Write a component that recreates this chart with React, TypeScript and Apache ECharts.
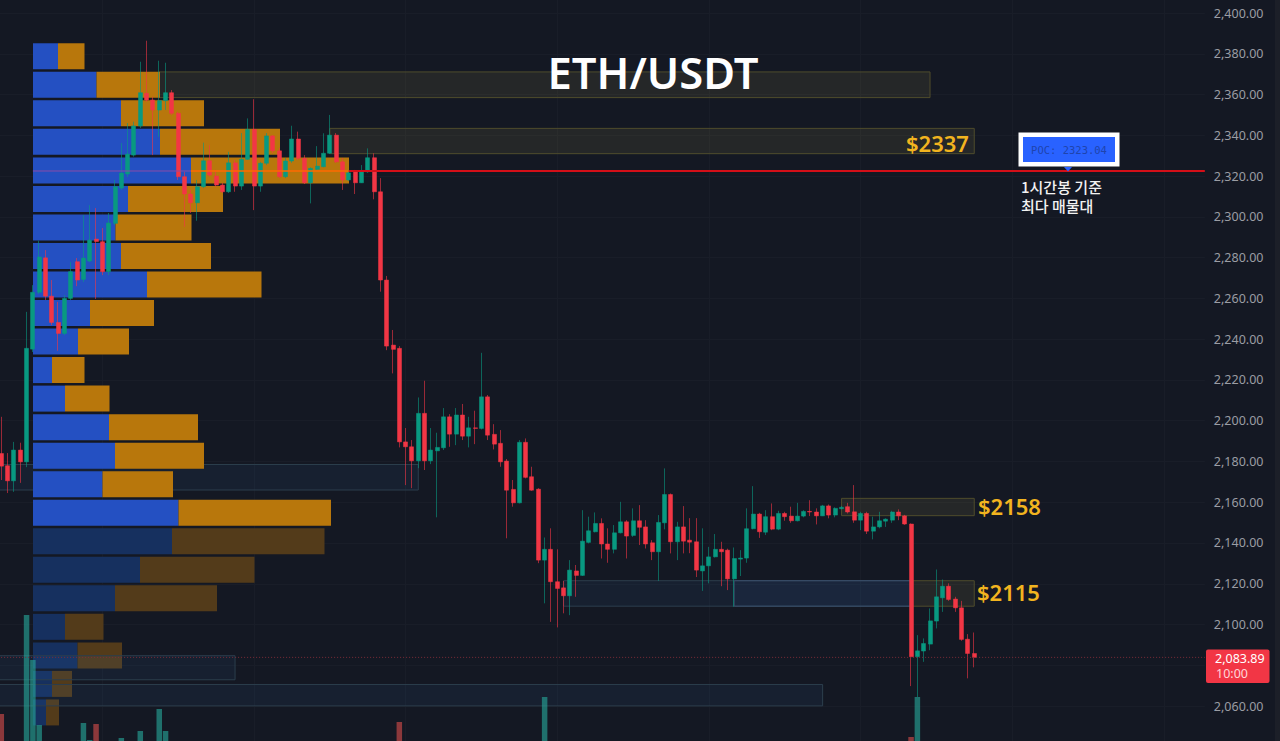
import { useEffect, useRef } from 'react';
import * as echarts from 'echarts';

const BG = '#141823';
const UP = '#089981';
const DOWN = '#f23645';
const GOLD = '#f2b41f';
const LAST_PRICE = 2083.89;

// one slot per 1h bar, the empty ones on the right are the chart's free space
const slots = Array.from({ length: 191 }, (_, i) => String(i));

// open, close, low, high
const candles = [
  [2183.9, 2177.7, 2170.9, 2201.9], [2177.9, 2170.5, 2164.5, 2184.1], [2170.5, 2185.6, 2165.1, 2189.6], [2185.6, 2179.8, 2169.5, 2189.2],
  [2179.8, 2235.5, 2177.2, 2253.4], [2235.1, 2263, 2233.7, 2266.5], [2263, 2280.3, 2262.1, 2288.3], [2279.9, 2261.1, 2259.2, 2283.7],
  [2261.1, 2248.2, 2246.9, 2269], [2248.2, 2242.8, 2234.3, 2258.3], [2242.8, 2260, 2242, 2261.6], [2260, 2273.1, 2259.2, 2277.8],
  [2278, 2269, 2266, 2279.8], [2269.3, 2279.8, 2268, 2300.9], [2278.3, 2288.6, 2277.8, 2305.8], [2289.1, 2287.9, 2259.7, 2304.3],
  [2287.8, 2273.1, 2271.4, 2294.5], [2273.1, 2297, 2271.4, 2301.9], [2296.8, 2314.8, 2296, 2318.1], [2314.1, 2321.5, 2313.2, 2336.2],
  [2321, 2330.8, 2319.5, 2346], [2330.3, 2344.6, 2329.5, 2346.7], [2344.6, 2360.9, 2343.6, 2376.1], [2360.6, 2357.3, 2356.5, 2386.4],
  [2357.3, 2352.4, 2330.3, 2358.9], [2352.4, 2357, 2339.3, 2376.6], [2357, 2360.9, 2352.4, 2375.6], [2360.9, 2350.8, 2350, 2362.2],
  [2350.8, 2319.7, 2318.1, 2351.6], [2319.7, 2311.2, 2295.1, 2322.1], [2311.2, 2306.9, 2301.9, 2313.2], [2306.9, 2314.8, 2298.1, 2318.1],
  [2314.8, 2327.5, 2314.1, 2336.4], [2327.5, 2320.5, 2319.7, 2335.2], [2320, 2315.6, 2314.8, 2323], [2315.6, 2312.3, 2311.7, 2316.6],
  [2312.3, 2326.5, 2311.7, 2331.9], [2326.5, 2315.1, 2312.3, 2327.9], [2315.1, 2328.2, 2313.2, 2341.1], [2328.2, 2342.9, 2327.9, 2348.3],
  [2342.9, 2315.1, 2303.3, 2357.7], [2315.1, 2326.3, 2312.3, 2327], [2326.3, 2339.7, 2325.4, 2341.1], [2339.7, 2332.4, 2331.3, 2340.1],
  [2332.4, 2319.7, 2319, 2333.8], [2319.7, 2327.4, 2319, 2328.9], [2327.4, 2338.2, 2326.5, 2344.7], [2338.2, 2328.7, 2327.9, 2341.8],
  [2328.7, 2316.7, 2316.1, 2330.3], [2316.7, 2323.8, 2306.6, 2324.3], [2323.3, 2324.9, 2323, 2334.7], [2324.6, 2331.2, 2324.3, 2341],
  [2331.2, 2340.1, 2330.8, 2350], [2340.1, 2327, 2326.4, 2341.1], [2327, 2318.1, 2313.2, 2328.9], [2318.1, 2321.6, 2317.7, 2322.6],
  [2322.5, 2316.7, 2311.2, 2323], [2316.7, 2322.1, 2316.6, 2325.4], [2322.1, 2329, 2321.6, 2333.6], [2329, 2312.3, 2308.6, 2331.2],
  [2312.3, 2269, 2263.3, 2319], [2269, 2236.6, 2234.6, 2271], [2237.1, 2235, 2223.2, 2244.5], [2235.5, 2189.6, 2186.9, 2236.6],
  [2189.6, 2187.2, 2168.4, 2196.4], [2187.2, 2180.3, 2166.9, 2190.5], [2180.3, 2203.6, 2176.7, 2211.4], [2203.6, 2180.3, 2175.8, 2219.6],
  [2180.3, 2185.6, 2178.7, 2196.4], [2185.2, 2186.9, 2152.6, 2194.1], [2186.7, 2201.9, 2185.6, 2206.2], [2201.9, 2193.4, 2187.2, 2203.2],
  [2193.4, 2202.8, 2188, 2206.2], [2202.8, 2192.4, 2190.5, 2208.2], [2192.4, 2196.5, 2186.9, 2201.9], [2196.5, 2196.2, 2188.5, 2204.9],
  [2196.2, 2211.7, 2195.7, 2233.3], [2211.7, 2192.9, 2190.5, 2212.6], [2193.3, 2188.5, 2185.9, 2198.3], [2188.9, 2179.8, 2177.4, 2195.4],
  [2180.2, 2165.9, 2142.3, 2181.2], [2166.3, 2159.7, 2157.8, 2170.9], [2159.7, 2189.4, 2159.4, 2190.5], [2189.4, 2172.2, 2171.7, 2191.3],
  [2172.5, 2165.9, 2165.6, 2177.4], [2166.4, 2131.6, 2130.1, 2166.9], [2131.6, 2136.9, 2110.4, 2142.7], [2136.9, 2121, 2101.3, 2147.2],
  [2121, 2117.7, 2098.6, 2136.9], [2118, 2114.1, 2105.5, 2121.4], [2114.1, 2126.7, 2104.6, 2131.6], [2126.3, 2124.1, 2113.6, 2129.2],
  [2124.1, 2140.9, 2123.8, 2156.1], [2140.3, 2146, 2139.8, 2152.9], [2145.5, 2149.6, 2145.2, 2155], [2149.6, 2139.5, 2132.4, 2152.1],
  [2139.5, 2136.9, 2130.3, 2147.2], [2136.9, 2145, 2134.9, 2148.8], [2145, 2150.4, 2144.7, 2160.2], [2150.4, 2143.4, 2132.4, 2151.2],
  [2143.7, 2150.9, 2143, 2157], [2150.9, 2147.7, 2139, 2158.6], [2147.9, 2139.5, 2137.3, 2151.2], [2140.1, 2135.7, 2131.6, 2141.4],
  [2135.7, 2150.1, 2121.4, 2153.7], [2149.9, 2163.8, 2146.7, 2176.6], [2163.8, 2140.6, 2134.9, 2164.3], [2140.6, 2147.9, 2131.6, 2150.4],
  [2147.9, 2140.9, 2134.9, 2158.1], [2141.4, 2140.4, 2135, 2152.2], [2140.6, 2126.7, 2123.3, 2152.2], [2126.3, 2128.8, 2116.5, 2147.2],
  [2128.8, 2133.2, 2120.2, 2138.1], [2133.2, 2136.9, 2132.9, 2144.4], [2136.9, 2135.7, 2118.8, 2140.6], [2136.5, 2122.4, 2116.9, 2137.2],
  [2122.4, 2132.4, 2108.7, 2137.8], [2132.1, 2132.6, 2123.8, 2136.5], [2132.6, 2147, 2130.3, 2157], [2147, 2154.2, 2146.7, 2167.9],
  [2154.2, 2145.5, 2142.5, 2154.8], [2145.3, 2152.9, 2143.9, 2156.1], [2152.9, 2146.8, 2146.3, 2159.4], [2146.8, 2154.5, 2146.3, 2155.8],
  [2154.5, 2152.9, 2150.9, 2155.3], [2153.2, 2150.9, 2149.9, 2157.8], [2150.9, 2153.2, 2150.6, 2159.7], [2153.2, 2155.5, 2152.6, 2156.1],
  [2155.5, 2155.2, 2153.2, 2161], [2155.2, 2153.3, 2149.1, 2157], [2153.3, 2158.2, 2153.2, 2158.7], [2158.2, 2153.7, 2152.1, 2158.9],
  [2153.7, 2157, 2152.6, 2157.5], [2156.8, 2157.5, 2156.5, 2158.1], [2157.8, 2155.2, 2154.5, 2159.7], [2155.3, 2151.2, 2149.9, 2168.4],
  [2151.2, 2154.5, 2146.3, 2155.3], [2154.5, 2145.8, 2144.4, 2155.3], [2145.8, 2147.9, 2141.8, 2152.9], [2147.9, 2150.9, 2147.2, 2155.3],
  [2150.7, 2151.7, 2147.9, 2152.1], [2151.2, 2155.2, 2149.9, 2155.8], [2155.2, 2153.3, 2151.2, 2156.5], [2153.3, 2149.3, 2148.9, 2153.8],
  [2149.3, 2084.2, 2069.8, 2149.6], [2084.2, 2087.1, 2064.4, 2094.8], [2087, 2090.7, 2081.7, 2093.2], [2090.4, 2101.8, 2087.4, 2107.9],
  [2101.7, 2113.6, 2098.1, 2127], [2113.1, 2118.8, 2106.2, 2122.1], [2118.8, 2112.3, 2111.6, 2120.2], [2112.5, 2108.2, 2106.2, 2113.6],
  [2108.2, 2092.7, 2092, 2111.6], [2092.8, 2085.8, 2073.6, 2095.3], [2085.8, LAST_PRICE, 2079, 2096.1],
];

// bar slot, volume (only the bars that reach into the view)
const volumes = [
  [0, 46], [4, 145], [5, 100], [6, 35], [13, 37], [14, 20], [15, 36], [19, 22], [22, 29], [25, 51], [26, 29], [63, 38], [86, 63], [144, 23], [145, 63],
];

// volume profile, top row first
const profileBuy = [25, 63.5, 88, 127, 158, 95, 82.5, 88, 114, 57, 45, 19, 32, 76, 82, 69.5, 145.5, 139, 107, 82, 32, 44.5, 19, 13];
const profileSell = [26.5, 63.5, 83, 120, 158, 95, 76, 90, 114.5, 64, 51, 32.5, 44.5, 89, 89, 70.5, 152.5, 152.5, 114.5, 102, 38.5, 44.5, 20, 13];
const FIRST_DIM_ROW = 17;

// start slot, end slot, top price, bottom price, style
const zonesBehind = [
  [25, 147, 2371.1, 2358.5, 'gold'],
  [52, 154, 2343.4, 2331, 'gold'],
  [0, 66, 2178.5, 2166, 'slate'],
  [89, 144, 2121.5, 2109, 'slate'],
  [116, 144, 2121.5, 2109, 'steel'],
  [144, 154, 2121.5, 2109, 'gold'],
  [133, 154, 2161.9, 2153.4, 'gold'],
];
const zonesFront = [
  [0, 37, 2084.7, 2072.9, 'slate'],
  [0, 130, 2070.6, 2060.1, 'slate'],
];
const zoneStyles: Record<string, { fill: string; stroke: string }> = {
  gold: { fill: 'rgba(200,180,90,0.1)', stroke: '#4f4c2c' },
  slate: { fill: 'rgba(60,120,190,0.09)', stroke: '#2c3e4d' },
  steel: { fill: 'rgba(70,120,200,0.08)', stroke: '#3a506c' },
};

// start slot, end slot, price, style
const levelLines = [
  [5, 30, 2322.5, 'pocBlue'],
  [30, 55, 2322.5, 'pocOrange'],
  [55, 190, 2322.5, 'poc'],
  [0, 190, LAST_PRICE, 'last'],
];
const lineStyles: Record<string, any> = {
  pocBlue: { stroke: '#8a4aa8', lineWidth: 1 },
  pocOrange: { stroke: '#ff6a00', lineWidth: 1.5 },
  poc: { stroke: '#d40f18', lineWidth: 2.2 },
  last: { stroke: '#7d2c38', lineWidth: 1, lineDash: [1, 2] },
};

function renderZone(params: any, api: any) {
  const cs = params.coordSys;
  const a = api.coord([api.value(0), api.value(2)]);
  const b = api.coord([api.value(1), api.value(3)]);
  const x0 = api.value(0) > 0 ? a[0] : cs.x;
  return {
    type: 'rect',
    shape: { x: x0, y: a[1], width: b[0] - x0, height: b[1] - a[1] },
    style: { ...zoneStyles[api.value(4)], lineWidth: 1 },
  };
}

function renderLevel(params: any, api: any) {
  const cs = params.coordSys;
  const a = api.coord([api.value(0), api.value(2)]);
  const b = api.coord([api.value(1), api.value(2)]);
  const x1 = api.value(1) === slots.length - 1 ? cs.x + cs.width : b[0];
  const x0 = api.value(0) > 0 ? a[0] : cs.x;
  return {
    type: 'line',
    shape: { x1: x0, y1: a[1], x2: x1, y2: a[1] },
    style: lineStyles[api.value(3)],
  };
}

function zoneSeries(data: any[], z: number) {
  return {
    type: 'custom', z, renderItem: renderZone, silent: true,
    encode: { x: [0, 1], y: [2, 3] },
    data,
  };
}

const PLOT_LEFT = -1.86;
const PLOT_WIDTH = 1206.7;
const GRID_LINE = '#191d28';

function buildOption() {
  const slotAxis = (gridIndex: number, extra = {}) => ({
    type: 'category', gridIndex, data: slots,
    axisLine: { show: false }, axisTick: { show: false }, axisLabel: { show: false },
    splitLine: { show: false },
    ...extra,
  });
  const profileColor = (row: number, bright: string, dim: string) => (row < FIRST_DIM_ROW ? bright : dim);
  const candleColors = { color: UP, color0: DOWN, borderColor: UP, borderColor0: DOWN };
  return {
    animation: false,
    backgroundColor: BG,
    grid: [
      { left: PLOT_LEFT, width: PLOT_WIDTH, top: -27.76, height: 774.6, outerBoundsMode: 'none' },
      { left: 33, width: 1000, top: 42, height: 684.7, outerBoundsMode: 'none' },
      { left: PLOT_LEFT, width: PLOT_WIDTH, top: 600, height: 160, outerBoundsMode: 'none' },
    ],
    xAxis: [
      slotAxis(0, {
        splitLine: {
          show: true, alignWithLabel: true,
          interval: (i: number) => (i - 16) % 24 === 0,
          lineStyle: { color: GRID_LINE, width: 1 },
        },
      }),
      { type: 'value', gridIndex: 1, min: 0, max: 1000, show: false },
      slotAxis(2),
    ],
    yAxis: [
      {
        type: 'value', gridIndex: 0, position: 'right', min: 2040, max: 2420, interval: 20,
        axisLine: { show: false }, axisTick: { show: false },
        splitLine: { lineStyle: { color: GRID_LINE, width: 1 } },
        axisLabel: {
          margin: 9, color: '#9b9da4', fontFamily: 'Noto Sans', fontSize: 12.5,
          // 2,080 sits under the last-price tag
          formatter: (v: number) => (v === 2040 || v === 2420 || v === 2080
            ? '' : v.toLocaleString('en-US', { minimumFractionDigits: 2 })),
        },
      },
      { type: 'category', gridIndex: 1, inverse: true, show: false, data: profileBuy.map((_, i) => String(i)) },
      { type: 'value', gridIndex: 2, min: 0, max: 160, show: false },
    ],
    series: [
      zoneSeries(zonesBehind, 1),
      {
        type: 'bar', xAxisIndex: 1, yAxisIndex: 1, stack: 'profile', barWidth: 26, z: 2, silent: true,
        data: profileBuy.map((v, i) => ({ value: v, itemStyle: { color: profileColor(i, '#2450c2', '#16305f') } })),
      },
      {
        type: 'bar', xAxisIndex: 1, yAxisIndex: 1, stack: 'profile', barWidth: 26, z: 2, silent: true,
        data: profileSell.map((v, i) => ({ value: v, itemStyle: { color: profileColor(i, '#b8770c', '#533b1a') } })),
      },
      zoneSeries(zonesFront, 3),
      {
        type: 'bar', xAxisIndex: 2, yAxisIndex: 2, barWidth: 5.5, z: 4, silent: true,
        data: volumes.map(([slot, v]) => ({
          value: [slot, v],
          itemStyle: {
            color: candles[slot][1] >= candles[slot][0] ? 'rgba(38,166,154,0.62)' : 'rgba(239,83,80,0.55)',
          },
        })),
      },
      // wicks are fainter than the bodies, so they get a series of their own
      {
        type: 'candlestick', z: 5, barWidth: 1, silent: true, data: candles,
        itemStyle: { ...candleColors, borderWidth: 1, opacity: 0.6 },
      },
      {
        type: 'candlestick', z: 5, barWidth: 4.5, silent: true,
        data: candles.map(([o, c]) => [o, c, Math.min(o, c), Math.max(o, c)]),
        itemStyle: { ...candleColors, borderWidth: 0.5 },
      },
      {
        type: 'custom', z: 6, renderItem: renderLevel, silent: true,
        encode: { x: [0, 1], y: 2 },
        data: levelLines,
      },
    ],
    graphic: [
      { type: 'rect', z: 20, shape: { x: 1275, y: 0, width: 5, height: 741 }, style: { fill: '#1c1f28' } },
      {
        type: 'text', z: 20, x: 653, y: 72,
        style: { text: 'ETH/USDT', fill: '#ffffff', font: '600 43.5px "Noto Sans"', align: 'center', verticalAlign: 'middle' },
      },
      {
        type: 'text', z: 20, x: 906, y: 143,
        style: { text: '$2337', fill: GOLD, font: '600 22px "Noto Sans"', verticalAlign: 'middle' },
      },
      {
        type: 'text', z: 20, x: 978, y: 506,
        style: { text: '$2158', fill: GOLD, font: '600 22px "Noto Sans"', verticalAlign: 'middle' },
      },
      {
        type: 'text', z: 20, x: 977, y: 592,
        style: { text: '$2115', fill: GOLD, font: '600 22px "Noto Sans"', verticalAlign: 'middle' },
      },
      { type: 'rect', z: 20, shape: { x: 1018.5, y: 132.5, width: 101, height: 34 }, style: { fill: '#ffffff' } },
      { type: 'rect', z: 21, shape: { x: 1023, y: 137, width: 92, height: 25 }, style: { fill: '#2962ff' } },
      { type: 'polygon', z: 21, shape: { points: [[1064, 167], [1072, 167], [1068, 171.5]] }, style: { fill: '#2962ff' } },
      {
        type: 'text', z: 22, x: 1069, y: 149.5,
        style: { text: 'POC: 2323.04', fill: '#1f44ad', font: '10.5px "DejaVu Sans Mono"', align: 'center', verticalAlign: 'middle' },
      },
      {
        type: 'text', z: 20, x: 1021, y: 186.5,
        style: { text: '1시간봉 기준', fill: '#f2f2f2', font: '500 15px "Noto Sans CJK KR"', verticalAlign: 'middle' },
      },
      {
        type: 'text', z: 20, x: 1021, y: 205.5,
        style: { text: '최다 매물대', fill: '#f2f2f2', font: '500 15px "Noto Sans CJK KR"', verticalAlign: 'middle' },
      },
      { type: 'rect', z: 20, shape: { x: 1206, y: 649.5, width: 63.5, height: 33.5, r: 2 }, style: { fill: DOWN } },
      {
        type: 'text', z: 21, x: 1215, y: 658,
        style: { text: '2,083.89', fill: '#ffffff', font: '12.5px "Noto Sans"', verticalAlign: 'middle' },
      },
      {
        type: 'text', z: 21, x: 1216, y: 673.5,
        style: { text: '10:00', fill: '#ffd5d9', font: '12.5px "Noto Sans"', verticalAlign: 'middle' },
      },
    ],
  };
}

export default function App() {
  const ref = useRef<HTMLDivElement>(null);

  useEffect(() => {
    if (!ref.current) return;
    const chart = echarts.init(ref.current, undefined, { renderer: 'svg' });
    chart.setOption(buildOption());
    return () => chart.dispose();
  }, []);

  return <div ref={ref} style={{ position: 'fixed', left: 0, top: 0, width: 1280, height: 741 }} />;
}
